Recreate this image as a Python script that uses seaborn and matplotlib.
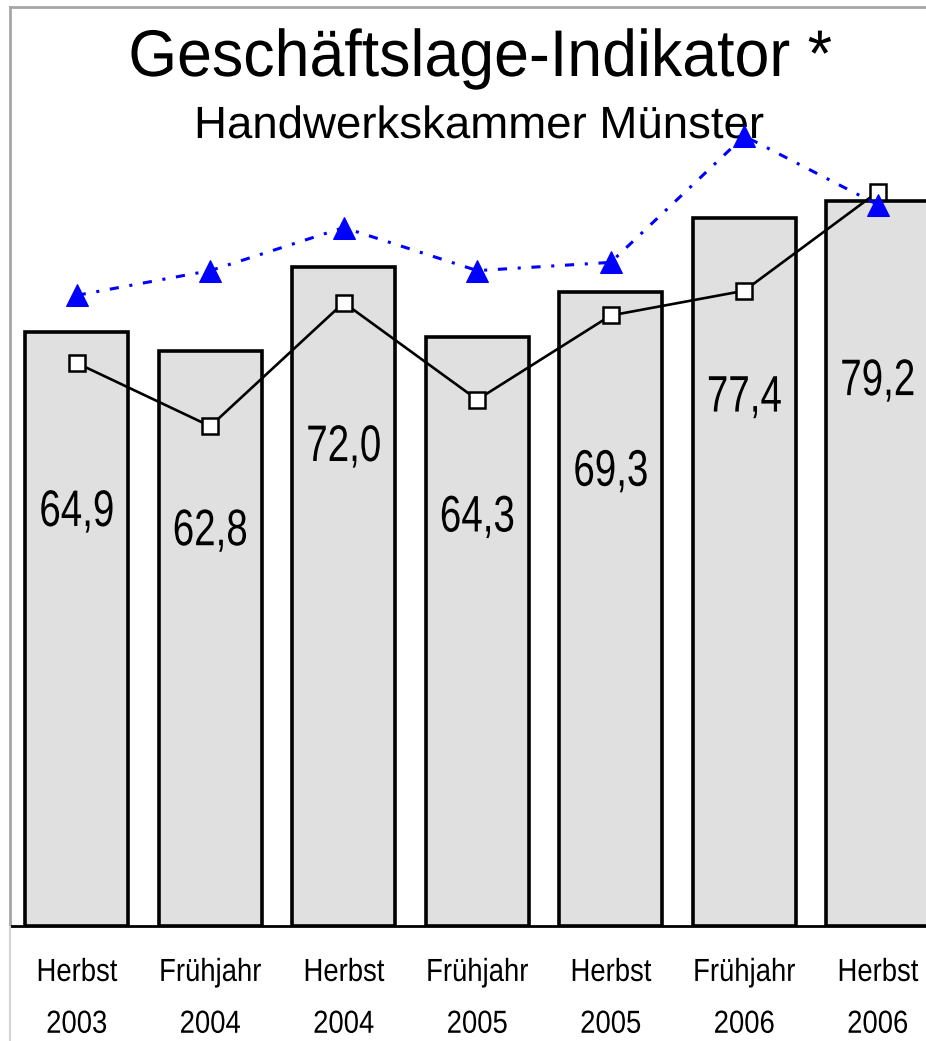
import numpy as np
import pandas as pd
import matplotlib
matplotlib.use("Agg")
import matplotlib.pyplot as plt
import matplotlib.patheffects as pe
import seaborn as sns
from matplotlib.lines import Line2D
from matplotlib.transforms import Affine2D

# DATA
categories = ["Herbst\n2003", "Frühjahr\n2004", "Herbst\n2004", "Frühjahr\n2005",
              "Herbst\n2005", "Frühjahr\n2006", "Herbst\n2006"]
bar_values = [64.9, 62.8, 72.0, 64.3, 69.3, 77.4, 79.2]
square_values = [61.5, 54.6, 68.1, 57.5, 66.7, 69.4, 80.2]
triangle_values = [68.9, 71.6, 76.3, 71.6, 72.5, 86.3, 78.8]

title = "Geschäftslage-Indikator *"
subtitle = "Handwerkskammer Münster"


class StretchX(pe.AbstractPathEffect):
    """squeeze/stretch text horizontally around its own centre (narrow font look)"""

    def __init__(self, sx):
        super().__init__()
        self.sx = sx

    def draw_path(self, renderer, gc, tpath, affine, rgbFace=None):
        ext = tpath.get_extents()
        cx = (ext.x0 + ext.x1) / 2
        t = Affine2D().translate(-cx, 0).scale(self.sx, 1).translate(cx, 0) + affine
        renderer.draw_path(gc, tpath, t, rgbFace)


sns.set_style("white")
plt.rcParams['font.family'] = ['Liberation Sans', 'DejaVu Sans']
plt.rcParams['text.color'] = 'black'
plt.rcParams['xtick.labelcolor'] = 'black'

df = pd.DataFrame({"Kategorie": categories, "Wert": bar_values})
pos = np.arange(len(categories))

W, H = 926, 1041
fig = plt.figure(figsize=(W / 100, H / 100), dpi=100)
# axes runs slightly past the right edge, as in the cropped original
ax = fig.add_axes([10 / W, (H - 926) / H, 934.5 / W, (926 - 7) / H])

sns.barplot(data=df, x="Kategorie", y="Wert", color="#e0e0e0", edgecolor="black",
            linewidth=2.6, width=0.77, saturation=1, ax=ax, zorder=1)

sns.lineplot(x=pos, y=square_values, color="black", linewidth=1.9, marker="s",
             markersize=11.5, markerfacecolor="white", markeredgecolor="black",
             markeredgewidth=1.8, ax=ax, zorder=3)
sns.lineplot(x=pos, y=triangle_values, color="#0000ff", linewidth=2.2,
             linestyle=(0, (3, 3.5, 1, 3.5)), marker="^", markersize=16,
             markerfacecolor="#0000ff", markeredgecolor="#0000ff", ax=ax, zorder=4)

for i, v in enumerate(bar_values):
    ax.text(i, v - 21.2, f"{v:.1f}".replace(".", ","), ha="center", va="baseline",
            fontsize=37, color="black", zorder=5, path_effects=[StretchX(0.75)])

ax.set_xlim(-0.5, len(categories) - 0.5)
ax.set_ylim(0, 100.4)
ax.set_xlabel("")
ax.set_ylabel("")
ax.set_yticks([])

ax.set_xticks(pos)
ax.set_xticklabels(categories, fontsize=23, linespacing=1.95)
for lab in ax.get_xticklabels():
    lab.set_path_effects([StretchX(0.86)])
ax.set_xticks(pos[:-1] + 0.5, minor=True)
ax.tick_params(axis="x", which="major", length=0, pad=23)
ax.tick_params(axis="x", which="minor", length=9, width=1, color="#808080")

for s in ["left", "top"]:
    ax.spines[s].set_color("#a6a6a6")
    ax.spines[s].set_linewidth(2)
ax.spines["right"].set_visible(False)
ax.spines["bottom"].set_color("black")
ax.spines["bottom"].set_linewidth(2)

fig.add_artist(Line2D([10 / W, 10 / W], [0, (H - 926) / H], color="#d4d4d4",
                      linewidth=1.5, transform=fig.transFigure))

ax.text((480 - 10) / 934.5, 1 - (76 - 7) / 919, title, transform=ax.transAxes,
        ha="center", va="baseline", fontsize=47.5, path_effects=[StretchX(0.95)])
ax.text((479 - 10) / 934.5, 1 - (138 - 7) / 919, subtitle, transform=ax.transAxes,
        ha="center", va="baseline", fontsize=32.5, path_effects=[StretchX(1.01)])

fig.savefig("out.png", dpi=100)
